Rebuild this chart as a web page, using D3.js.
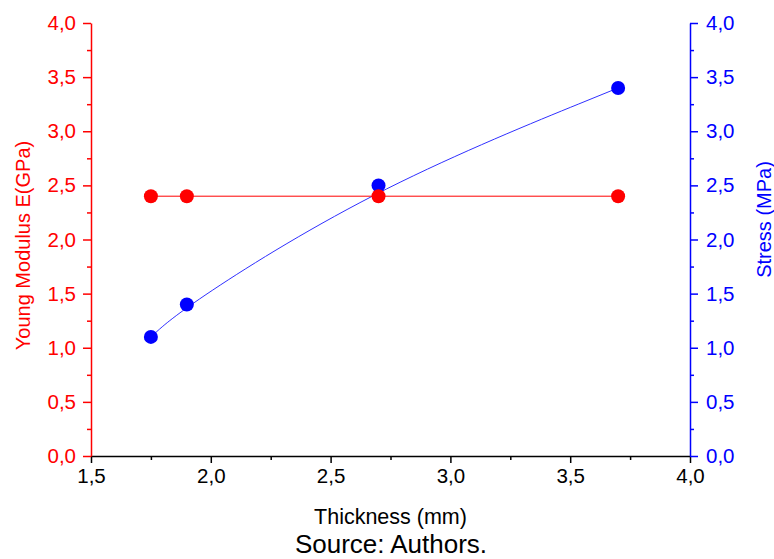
<!DOCTYPE html>
<html>
<head>
<meta charset="utf-8">
<script src="https://cdn.jsdelivr.net/npm/d3@7"></script>
<style>
    body { margin: 0; background: #fff; }
    text { font-family: "Liberation Sans", Arial, sans-serif; }
</style>
</head>
<body>
<div id="chart"></div>
<script>
// Data
const thickness = [1.75, 1.9, 2.7, 3.7];
const youngModulus = [2.4, 2.4, 2.4, 2.4];
const stress = [1.1, 1.4, 2.5, 3.4];
const xTicks = [1.5, 2.0, 2.5, 3.0, 3.5, 4.0];
const yTicks = [0, 0.5, 1.0, 1.5, 2.0, 2.5, 3.0, 3.5, 4.0];

const W = 774, H = 559;
const margin = { top: 23, right: 84, bottom: 103, left: 91 };
const width = W - margin.left - margin.right;
const height = H - margin.top - margin.bottom;

const RED = '#ff0000';
const BLUE = '#0000ff';

const fmt = d => d.toFixed(1).replace('.', ',');

const svg = d3.select('#chart')
    .append('svg')
    .attr('width', W)
    .attr('height', H);

const g = svg.append('g')
    .attr('transform', `translate(${margin.left}, ${margin.top})`);

// Scales
const x = d3.scaleLinear().domain([1.5, 4.0]).range([0, width]);
const yLeft = d3.scaleLinear().domain([0, 4.0]).range([height, 0]);
const yRight = d3.scaleLinear().domain([0, 4.0]).range([height, 0]);

// Minor ticks halfway between majors
const minorX = d3.range(1.75, 4.0, 0.5);
const minorY = d3.range(0.25, 4.0, 0.5);

function styleAxis(sel, color, fontSize) {
    sel.select('.domain').attr('stroke', color).attr('stroke-width', 1.5);
    sel.selectAll('.tick line').attr('stroke', color).attr('stroke-width', 1.5);
    sel.selectAll('.tick text')
        .attr('fill', color)
        .style('font-size', fontSize + 'px');
}

// Bottom axis
const xMinor = g.append('g')
    .attr('transform', `translate(0, ${height})`)
    .call(d3.axisBottom(x).tickValues(minorX).tickSize(4).tickFormat(''));
xMinor.select('.domain').remove();
xMinor.selectAll('.tick line').attr('stroke', '#000').attr('stroke-width', 1.5);

const xAxis = g.append('g')
    .attr('transform', `translate(0, ${height})`)
    .call(d3.axisBottom(x).tickValues(xTicks).tickSize(7).tickSizeOuter(0).tickPadding(5).tickFormat(fmt));
styleAxis(xAxis, '#000', 20.5);

// Left axis
const yLMinor = g.append('g')
    .call(d3.axisLeft(yLeft).tickValues(minorY).tickSize(4).tickFormat(''));
yLMinor.select('.domain').remove();
yLMinor.selectAll('.tick line').attr('stroke', RED).attr('stroke-width', 1.5);

const yLAxis = g.append('g')
    .call(d3.axisLeft(yLeft).tickValues(yTicks).tickSize(8).tickSizeOuter(0).tickPadding(7).tickFormat(fmt));
styleAxis(yLAxis, RED, 20.5);

// Right axis
const yRMinor = g.append('g')
    .attr('transform', `translate(${width}, 0)`)
    .call(d3.axisRight(yRight).tickValues(minorY).tickSize(4).tickFormat(''));
yRMinor.select('.domain').remove();
yRMinor.selectAll('.tick line').attr('stroke', BLUE).attr('stroke-width', 1.5);

const yRAxis = g.append('g')
    .attr('transform', `translate(${width}, 0)`)
    .call(d3.axisRight(yRight).tickValues(yTicks).tickSize(8).tickSizeOuter(0).tickPadding(8).tickFormat(fmt));
styleAxis(yRAxis, BLUE, 20.5);

// Stress series: smooth spline
const stressData = thickness.map((t, i) => ({ x: t, y: stress[i] }));
const ymData = thickness.map((t, i) => ({ x: t, y: youngModulus[i] }));

g.append('path')
    .datum(stressData)
    .attr('fill', 'none')
    .attr('stroke', '#3030ff')
    .attr('stroke-width', 1)
    .attr('d', d3.line().x(d => x(d.x)).y(d => yRight(d.y)).curve(d3.curveBasis));

g.selectAll('.stress-dot')
    .data(stressData)
    .enter()
    .append('circle')
    .attr('class', 'stress-dot')
    .attr('cx', d => x(d.x))
    .attr('cy', d => yRight(d.y))
    .attr('r', 7)
    .attr('fill', BLUE);

// Young modulus series
g.append('path')
    .datum(ymData)
    .attr('fill', 'none')
    .attr('stroke', RED)
    .attr('stroke-width', 1)
    .attr('d', d3.line().x(d => x(d.x)).y(d => yLeft(d.y)));

g.selectAll('.ym-dot')
    .data(ymData)
    .enter()
    .append('circle')
    .attr('class', 'ym-dot')
    .attr('cx', d => x(d.x))
    .attr('cy', d => yLeft(d.y))
    .attr('r', 7)
    .attr('fill', RED);

// Axis titles
g.append('text')
    .attr('transform', `translate(${-margin.left + 30}, ${height / 2 + 6}) rotate(-90)`)
    .attr('text-anchor', 'middle')
    .attr('fill', RED)
    .style('font-size', '20px')
    .text('Young Modulus E(GPa)');

g.append('text')
    .attr('transform', `translate(${width + 81}, ${height / 2 - 20}) rotate(-90)`)
    .attr('text-anchor', 'middle')
    .attr('fill', BLUE)
    .style('font-size', '20px')
    .text('Stress (MPa)');

g.append('text')
    .attr('x', width / 2)
    .attr('y', height + 68)
    .attr('text-anchor', 'middle')
    .attr('fill', '#000')
    .style('font-size', '21.5px')
    .text('Thickness (mm)');

svg.append('text')
    .attr('x', 391)
    .attr('y', 553)
    .attr('text-anchor', 'middle')
    .attr('fill', '#000')
    .style('font-size', '26px')
    .text('Source: Authors.');
</script>
</body>
</html>
